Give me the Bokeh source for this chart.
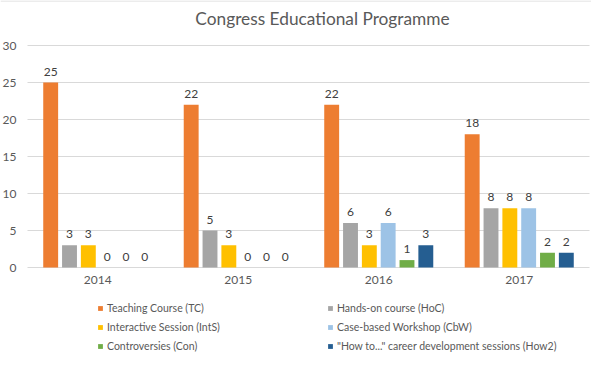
from bokeh.plotting import figure
from bokeh.models import ColumnDataSource, Legend, LegendItem, Label
from bokeh.embed import file_html
from bokeh.resources import INLINE
from bokeh.core.properties import value

title_text = "Congress Educational Programme"
years = ["2014", "2015", "2016", "2017"]
series_names = [
    "Teaching Course (TC)",
    "Hands-on course (HoC)",
    "Interactive Session (IntS)",
    "Case-based Workshop (CbW)",
    "Controversies (Con)",
    "\"How to...\" career development sessions (How2)",
]
tc = [25, 22, 22, 18]
hoc = [3, 5, 6, 8]
ints = [3, 3, 3, 8]
cbw = [0, 0, 6, 8]
con = [0, 0, 1, 2]
how2 = [0, 0, 3, 2]
colors = ["#ED7D31", "#A5A5A5", "#FFC000", "#9DC3E6", "#70AD47", "#255E91"]
y_ticks = [0, 5, 10, 15, 20, 25, 30]

series = [tc, hoc, ints, cbw, con, how2]
FONT = "Lato"
TXT = "#595959"

# layout (pixels inside the figure)
W, H = 591, 353
F_LEFT, F_RIGHT, F_TOP, F_BOTTOM = 27, 589, 45, 267
YMAX, NCAT = y_ticks[-1], len(years)
ky = (F_BOTTOM - F_TOP) / YMAX
kx = (F_RIGHT - F_LEFT) / NCAT
x_range = (-F_LEFT / kx, NCAT + (W - F_RIGHT) / kx)
y_range = (-(H - F_BOTTOM) / ky, YMAX + F_TOP / ky)

p = figure(width=W, height=H, x_range=x_range, y_range=y_range,
           output_backend="svg", toolbar_location=None,
           min_border=0, x_axis_type=None, y_axis_type=None)
p.outline_line_color = None
p.grid.visible = False

# chart border at the top edge
p.segment(x0=[x_range[0]], x1=[x_range[1]], y0=[y_range[1] - 0.5 / ky],
          y1=[y_range[1] - 0.5 / ky], line_color="#D9D9D9", line_width=1)

# gridlines and axis line
p.segment(x0=0, x1=NCAT, y0=y_ticks, y1=y_ticks, line_color="#D9D9D9",
          line_width=1)

# y tick labels
p.text(x=[0] * len(y_ticks), y=y_ticks, text=[str(t) for t in y_ticks],
       text_align="right", text_baseline="middle", x_offset=-11,
       text_font=value(FONT), text_font_size="12px", text_color=TXT)

# x category labels
centers = [i + 0.5 for i in range(NCAT)]
p.text(x=centers, y=[0] * NCAT, text=years, text_align="center",
       text_baseline="top", y_offset=8, text_font=value(FONT),
       text_font_size="12px", text_color=TXT)

step = 0.134
bw = 0.106
renderers = []
for k, (name, vals, col) in enumerate(zip(series_names, series, colors)):
    xs = [c + (k - 2.5) * step for c in centers]
    src = ColumnDataSource(dict(x=xs, top=vals, lab=[str(v) for v in vals]))
    r = p.vbar(x="x", top="top", width=bw, bottom=0, source=src,
               fill_color=col, line_color=None)
    p.text(x="x", y="top", text="lab", source=src, text_align="center",
           text_baseline="bottom", y_offset=-7, text_font=value(FONT),
           text_font_size="12px", text_color="#404040")
    renderers.append(r)

# legend: two columns, filled row by row
order = [0, 2, 4, 1, 3, 5]
items = [LegendItem(label=series_names[i], renderers=[renderers[i]])
         for i in order]
legend = Legend(items=items, ncols=2, location=(97, 0),
                glyph_width=6, glyph_height=6, label_standoff=4,
                label_width=215, label_height=14, spacing=5,
                padding=0, margin=0, border_line_alpha=0,
                background_fill_alpha=0, label_text_font=FONT,
                label_text_font_size="10.5px", label_text_color=TXT)
p.add_layout(legend, "center")

p.add_layout(Label(x=322, y=H - 18, x_units="screen", y_units="screen",
                   text=title_text, text_align="center",
                   text_baseline="middle", text_font=FONT,
                   text_font_size="17.3px", text_color=TXT))

open("out.html", "w").write(file_html(p, INLINE))
